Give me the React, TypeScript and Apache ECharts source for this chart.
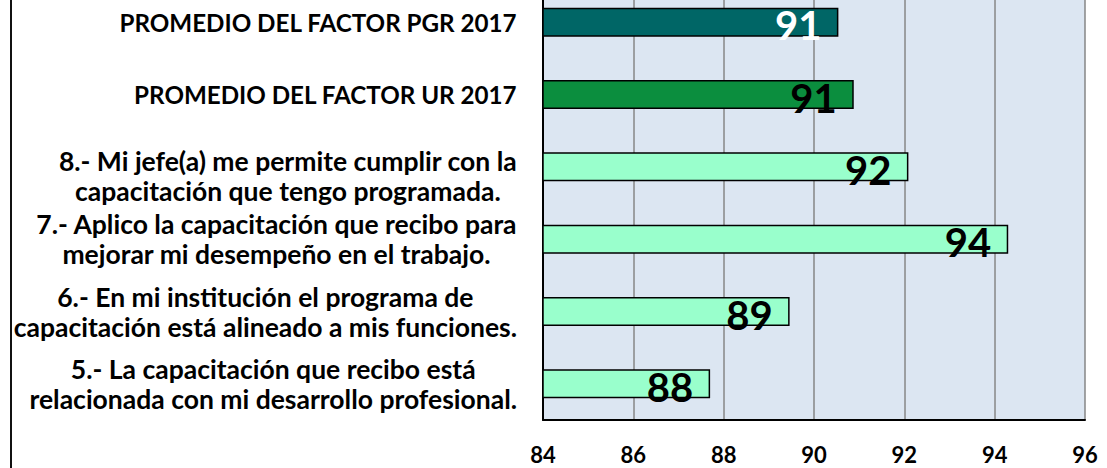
import React, { useEffect, useRef } from "react";
import * as echarts from "echarts";

const categories: string[] = [
  "PROMEDIO DEL FACTOR PGR 2017",
  "PROMEDIO DEL FACTOR UR 2017",
  "8.- Mi jefe(a) me permite cumplir con la\ncapacitación que tengo programada.",
  "7.- Aplico la capacitación que recibo para\nmejorar mi desempeño en el trabajo.",
  "6.- En mi institución el programa de\ncapacitación está alineado a mis funciones.",
  "5.- La capacitación que recibo está\nrelacionada con mi desarrollo profesional.",
];
const values: number[] = [90.54, 90.88, 92.09, 94.3, 89.46, 87.7];
const barColors: string[] = ["#006666", "#0B8E3E", "#99FFCC", "#99FFCC", "#99FFCC", "#99FFCC"];
const labelColors: string[] = ["#FFFFFF", "#000000", "#000000", "#000000", "#000000", "#000000"];
const xTicks = { min: 84, max: 96, interval: 2 };

const FONT = "Lato, 'Open Sans', sans-serif";

export default function App() {
  const ref = useRef<HTMLDivElement>(null);
  useEffect(() => {
    document.body.style.margin = "0";
    if (!ref.current) return;
    const chart = echarts.init(ref.current, null, { renderer: "svg" });
    chart.setOption({
      animation: false,
      backgroundColor: "#FFFFFF",
      grid: {
        left: 543,
        right: 22,
        bottom: 48,
        height: 434,
        containLabel: false,
        outerBoundsMode: "none",
      },
      xAxis: {
        type: "value",
        min: xTicks.min,
        max: xTicks.max,
        interval: xTicks.interval,
        axisLine: { show: true, lineStyle: { color: "#000000", width: 2 } },
        axisTick: { show: false },
        splitLine: { show: true, lineStyle: { color: "#868686", width: 1.5 } },
        splitArea: { show: true, areaStyle: { color: ["#DCE6F2", "#DCE6F2"] } },
        axisLabel: {
          margin: 23,
          fontSize: 22,
          fontWeight: "bold",
          fontFamily: FONT,
          color: "#000000",
        },
      },
      yAxis: {
        type: "category",
        inverse: true,
        data: categories.map((c, i) =>
          i === 2 ? { value: c, textStyle: { padding: [18, 0, 0, 0] } } : c
        ),
        axisLine: { show: true, lineStyle: { color: "#000000", width: 2 } },
        axisTick: { show: false },
        axisLabel: {
          align: "right",
          margin: 26,
          formatter: (v: string) => {
            const key = v === v.toUpperCase() ? "u" : "c";
            return v
              .split("\n")
              .map((s) => "{" + key + "|" + s + "}")
              .join("\n");
          },
          rich: {
            c: {
              align: "center",
              fontSize: 26.5,
              fontWeight: "bold",
              fontFamily: FONT,
              color: "#000000",
              lineHeight: 30,
            },
            u: {
              align: "center",
              fontSize: 24.2,
              fontWeight: "bold",
              fontFamily: FONT,
              color: "#000000",
              lineHeight: 30,
            },
          },
        },
      },
      series: [
        {
          type: "bar",
          barWidth: 29,
          data: values.map((v, i) => ({
            value: v,
            itemStyle: { color: barColors[i], borderColor: "#000000", borderWidth: 1.5 },
            label: { color: labelColors[i] },
          })),
          label: {
            show: true,
            position: "insideRight",
            distance: 17,
            offset: [0, 3],
            fontSize: 40,
            fontWeight: "bold",
            fontFamily: FONT,
            formatter: (p: any) => String(Math.round(p.value)),
          },
        },
      ],
      graphic: [
        {
          type: "line",
          shape: { x1: 11, y1: 0, x2: 11, y2: 468 },
          style: { stroke: "#111111", lineWidth: 2 },
          silent: true,
        },
      ],
    });
    return () => chart.dispose();
  }, []);
  return (
    <div
      ref={ref}
      style={{ position: "absolute", left: 0, top: 0, width: 1107, height: 468 }}
    />
  );
}
